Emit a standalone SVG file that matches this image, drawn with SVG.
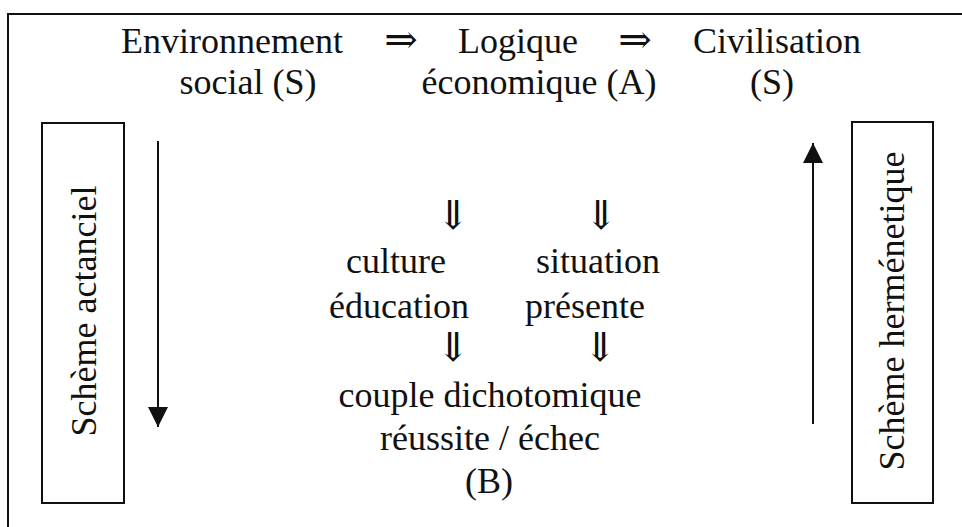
<svg xmlns="http://www.w3.org/2000/svg" width="962" height="527" viewBox="0 0 962 527">
<style>
text{font-family:"Liberation Serif","DejaVu Serif",serif;font-size:36px;fill:#111;text-anchor:middle}
.arr{font-family:"DejaVu Serif","Liberation Serif",serif;font-size:40px}
.frame{fill:none;stroke:#111;stroke-width:2}
.box{fill:#fff;stroke:#111;stroke-width:2}
.conn{stroke:#111;stroke-width:2;fill:none}
</style>
<defs>
<marker id="ah" viewBox="0 0 20 20" refX="20" refY="10" markerWidth="20" markerHeight="20" markerUnits="userSpaceOnUse" orient="auto">
<path d="M0,0 L20,10 L0,20 Z" fill="#111"/>
</marker>
</defs>
<g id="frame">
<path class="frame" d="M8,527 L8,14 L962,14"/>
</g>
<g id="top">
<text x="232" y="53">Environnement</text>
<text class="arr" x="401" y="53">⇒</text>
<text x="518" y="53">Logique</text>
<text class="arr" x="635" y="53">⇒</text>
<text x="777" y="53">Civilisation</text>
<text x="248" y="94">social (S)</text>
<text x="539" y="94">économique (A)</text>
<text x="772" y="94">(S)</text>
</g>
<g id="schema-actanciel">
<rect class="box" x="42" y="123" width="82" height="380"/>
<text transform="translate(96,311) rotate(-90)">Schème actanciel</text>
</g>
<g id="schema-hermenetique">
<rect class="box" x="852" y="122" width="81" height="381"/>
<text transform="translate(904,311) rotate(-90)">Schème herménetique</text>
</g>
<g id="middle">
<text class="arr" x="453" y="229">⇓</text>
<text class="arr" x="601" y="229">⇓</text>
<text x="396" y="273">culture</text>
<text x="598" y="273">situation</text>
<text x="399" y="318">éducation</text>
<text x="585" y="318">présente</text>
<text class="arr" x="453" y="361">⇓</text>
<text class="arr" x="600" y="361">⇓</text>
<text x="490" y="407">couple dichotomique</text>
<text x="490" y="450">réussite / échec</text>
<text x="489" y="493">(B)</text>
</g>
<g id="connectors">
<line class="conn" x1="158" y1="141" x2="158" y2="427" marker-end="url(#ah)"/>
<line class="conn" x1="813" y1="424" x2="813" y2="143" marker-end="url(#ah)"/>
</g>
</svg>
